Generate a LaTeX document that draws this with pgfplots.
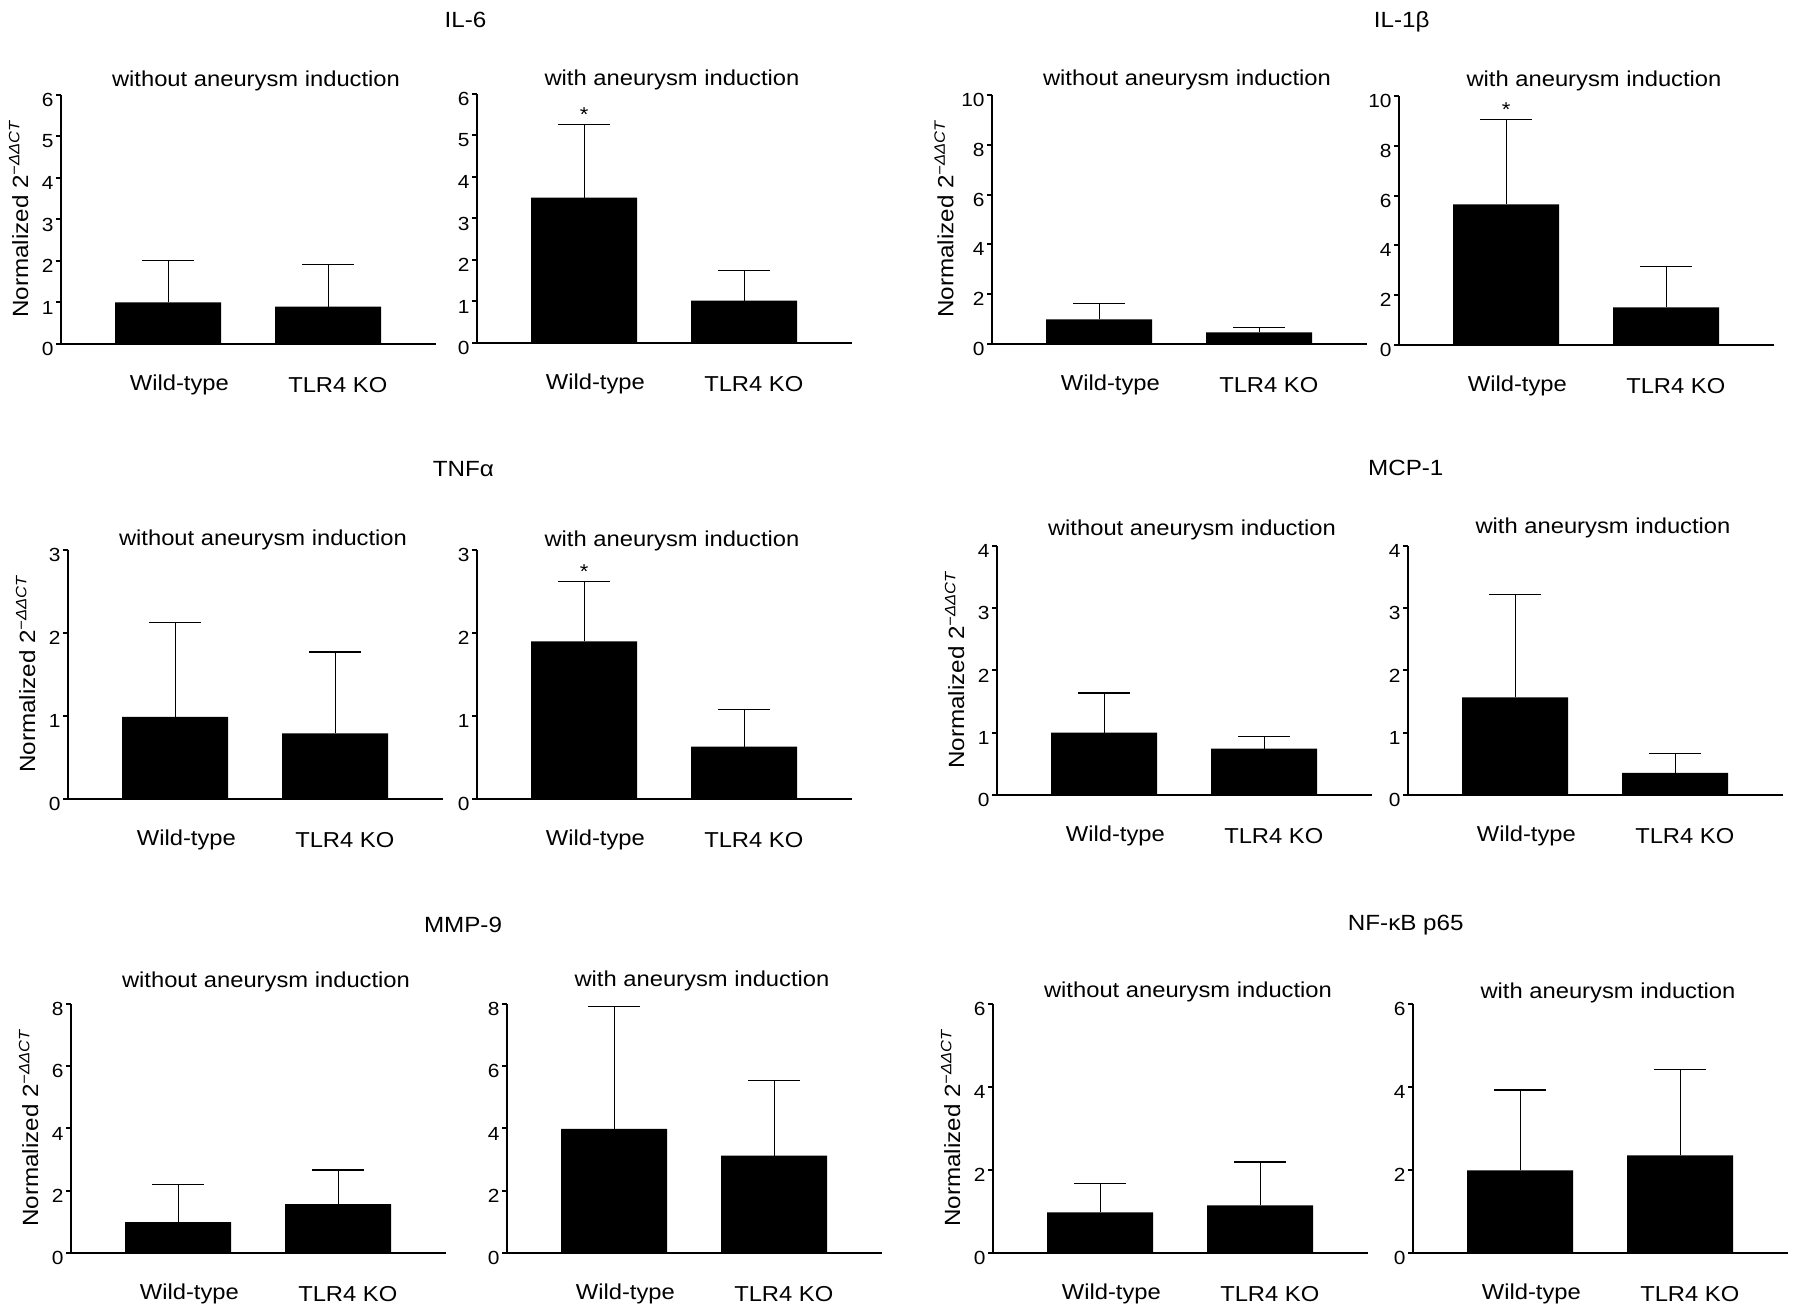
\documentclass[border=0pt]{standalone}
\usepackage{fontspec}
\setmainfont{Liberation Sans}[FakeStretch=1.1]
\usepackage{pgfplots}
\pgfplotsset{compat=1.18}

% 1 px of the reference = 0.5pt
\pgfplotsset{
  panel/.style={
    scale only axis, width=187.5pt, height=124.5pt,
    axis lines=left, axis line style={-, line width=1pt},
    xmin=-0.67, xmax=1.674, ymin=0,
    xtick={0.07,1.06}, xticklabels={Wild-type,TLR4 KO},
    x tick style={draw=none},
    tick align=outside, major tick length=2.5pt,
    y tick style={line width=1pt, black},
    /pgf/number format/assume math mode=true,
    yticklabel style={font=\fontsize{9.5}{10}\selectfont, inner xsep=1pt, yshift=-2.5pt},
    xticklabel style={font=\fontsize{10.8}{12}\selectfont, anchor=center, yshift=-18pt},
    title style={font=\fontsize{10.8}{12}\selectfont, at={(axis description cs:0.52,1)}, anchor=center, yshift=-7pt},
    ylabel style={font=\fontsize{11}{13}\selectfont, at={(axis description cs:-0.113,0.5)}, anchor=center},
    ybar, bar width=53pt,
    clip=false,
  },
}

\newcommand\ylab{Normalized 2\raisebox{0.75ex}{\fontsize{7.5}{8}\selectfont\itshape −ΔΔCT}}
\newcommand\sig[1]{\node[font=\fontsize{10}{12}\selectfont, anchor=base, yshift=1.5pt] at (axis cs:0,#1) {*};}
\newcommand\gene[3]{\node[font=\fontsize{11}{13}\selectfont, anchor=base] at ({#1*0.5pt},{(1311-#2)*0.5pt}) {#3};}

% #1 extra options, #2 x of y axis, #3 y of zero line (px from top),
% #4 ymax, #5 tick step, #6 title, #7 title offset (px), #8 data, #9 extra
\newcommand\panel[9]{%
  \begin{axis}[panel, #1,
    at={({#2*0.5pt},{(1311-#3)*0.5pt})}, anchor=south west,
    ymax=#4, ytick distance=#5,
    title={#6}, title style={yshift=#7*0.5pt}]
    \addplot[fill=black, draw=none,
      error bars/.cd, y dir=plus, y explicit,
      error bar style={draw=black, line width=0.65pt, solid},
      error mark options={draw=black, rotate=90, mark size=13pt, line width=0.65pt}]
      coordinates {#8};
    #9
  \end{axis}}

\begin{document}
\begin{tikzpicture}
\path[use as bounding box] (0,0) rectangle (898pt,655.5pt);

% IL-6
\gene{465.5}{28}{IL-6}
\panel{ylabel={\ylab}}{61}{344}{6}{1}{without aneurysm induction}{16}
  {(0,1.00) +- (0,1.02) (1,0.90) +- (0,1.01)}{}
\panel{}{477}{343}{6}{1}{with aneurysm induction}{16}
  {(0,3.50) +- (0,1.77) (1,1.02) +- (0,0.73)}{\sig{5.27}}

% IL-1b
\gene{1401.7}{28}{IL-1β}
\panel{ylabel={\ylab}, ylabel style={at={(axis description cs:-0.128,0.5)}}}{992}{344}{10}{2}{without aneurysm induction}{17}
  {(0,0.99) +- (0,0.63) (1,0.47) +- (0,0.20)}{}
\panel{}{1399}{345}{10}{2}{with aneurysm induction}{17}
  {(0,5.65) +- (0,3.41) (1,1.51) +- (0,1.64)}{\sig{9.06}}

% TNFa
\gene{463.3}{477}{TNFα}
\panel{ylabel={\ylab}}{68}{799}{3}{1}{without aneurysm induction}{12}
  {(0,0.99) +- (0,1.14) (1,0.79) +- (0,0.98)}{}
\panel{}{477}{799}{3}{1}{with aneurysm induction}{11}
  {(0,1.90) +- (0,0.72) (1,0.63) +- (0,0.45)}{\sig{2.62}}

% MCP-1
\gene{1405.8}{476}{MCP-1}
\panel{ylabel={\ylab}}{997}{795}{4}{1}{without aneurysm induction}{18}
  {(0,1.00) +- (0,0.64) (1,0.745) +- (0,0.195)}{}
\panel{}{1408}{795}{4}{1}{with aneurysm induction}{20}
  {(0,1.57) +- (0,1.65) (1,0.355) +- (0,0.315)}{}

% MMP-9
\gene{463}{933}{MMP-9}
\panel{ylabel={\ylab}}{71}{1253}{8}{2}{without aneurysm induction}{24}
  {(0,0.99) +- (0,1.20) (1,1.57) +- (0,1.10)}{}
\panel{}{507}{1253}{8}{2}{with aneurysm induction}{25}
  {(0,3.99) +- (0,3.92) (1,3.13) +- (0,2.41)}{}

% NF-kB p65
\gene{1405.8}{931}{NF-κB p65}
\panel{ylabel={\ylab}}{993}{1253}{6}{2}{without aneurysm induction}{14}
  {(0,0.98) +- (0,0.69) (1,1.15) +- (0,1.04)}{}
\panel{}{1413}{1253}{6}{2}{with aneurysm induction}{13}
  {(0,1.99) +- (0,1.94) (1,2.35) +- (0,2.07)}{}
\end{tikzpicture}
\end{document}
